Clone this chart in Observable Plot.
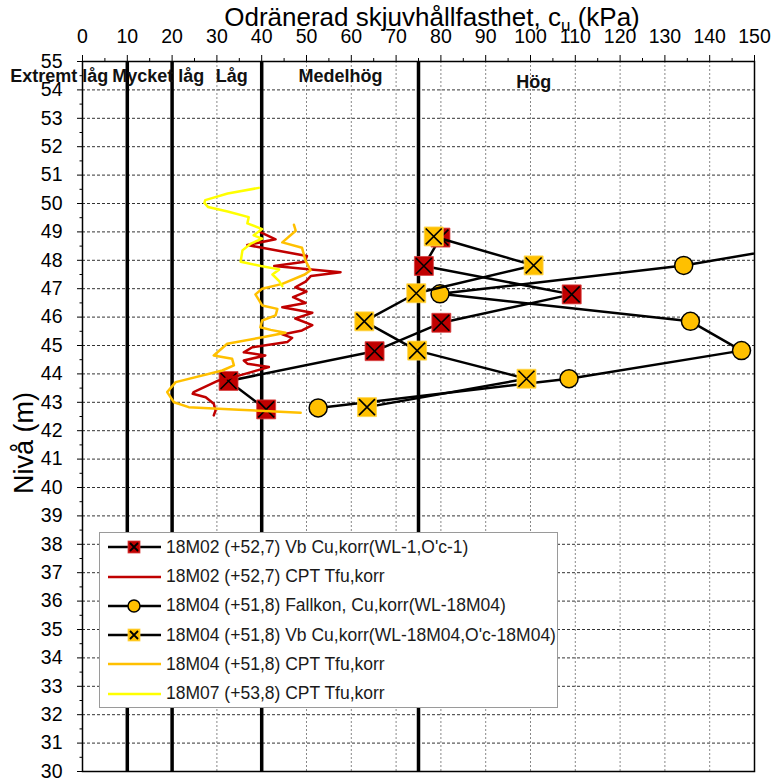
<!DOCTYPE html>
<html>
<head>
<meta charset="utf-8">
<script src="https://cdn.jsdelivr.net/npm/d3@7"></script>
<script src="https://cdn.jsdelivr.net/npm/@observablehq/plot@0.6"></script>
<style>
  body { margin: 0; background: white; }
  #wrap { position: relative; width: 771px; height: 780px; font-family: "Liberation Sans", Arial, sans-serif; }
  #legend { position: absolute; left: 99px; top: 532px; width: 459px; height: 176px; border: 1px solid #9a9a9a; background: white; box-sizing: border-box; }
  .row { position: absolute; left: 0; height: 22px; display: flex; align-items: center; }
  .row svg { margin-left: 7px; }
  .row span { position: absolute; left: 66px; font-size: 17.5px; color: #1a1a1a; white-space: nowrap; }
</style>
</head>
<body>
<div id="wrap"></div>
<script>
// ---- Data ----
const xTicks = [0, 10, 20, 30, 40, 50, 60, 70, 80, 90, 100, 110, 120, 130, 140, 150];
const yTicks = [30, 31, 32, 33, 34, 35, 36, 37, 38, 39, 40, 41, 42, 43, 44, 45, 46, 47, 48, 49, 50, 51, 52, 53, 54, 55];

const classBounds = [10, 20, 40, 75];
const classLabels = ["Extremt låg", "Mycket låg", "Låg", "Medelhög", "Hög"];
const classCu = [-5.2, 16.9, 33.3, 57.6, 100.7];
const classNiva = [54.48, 54.48, 54.48, 54.48, 54.28];

// 18M02 Vb
const vb02Cu = [79.9, 76.2, 109.2, 80.1, 65.2, 32.6, 41.0];
const vb02Niva = [48.8, 47.8, 46.8, 45.8, 44.8, 43.75, 42.75];

// 18M02 CPT
const cpt02Cu = [39.8, 43.1, 36.8, 39.8, 50.1, 49.6, 42.8, 57.6, 51.0, 49.8, 47.5, 50.0, 47.0, 49.8, 44.6, 51.3, 47.5, 51.3, 49.0, 44.6, 46.8, 45.7, 37.9, 36.0, 40.8, 36.0, 36.8, 41.6, 34.9, 30.4, 24.8, 24.6, 27.5, 29.3, 29.7, 29.3];
const cpt02Niva = [48.98, 48.74, 48.54, 48.45, 48.15, 47.95, 47.8, 47.58, 47.45, 47.25, 47.05, 46.9, 46.7, 46.5, 46.35, 46.15, 45.95, 45.72, 45.53, 45.39, 45.27, 45.12, 44.94, 44.76, 44.65, 44.47, 44.36, 44.24, 43.94, 43.77, 43.36, 43.3, 43.18, 42.95, 42.71, 42.54];

// 18M04 Fallkon
const fall04Cu = [171, 134.2, 79.8, 135.7, 147.1, 108.6, 52.6];
const fall04Niva = [48.8, 47.82, 46.82, 45.85, 44.82, 43.83, 42.8];

// 18M04 Vb
const vb04Cu = [78.4, 100.7, 74.5, 62.9, 74.7, 99.1, 63.5];
const vb04Niva = [48.84, 47.82, 46.84, 45.85, 44.82, 43.83, 42.83];

// 18M04 CPT
const cpt04Cu = [47.2, 47.6, 44.6, 49.0, 49.8, 50.9, 49.6, 44.6, 40.1, 38.6, 40.1, 43.5, 43.1, 40.1, 39.7, 42.0, 45.3, 40.5, 32.3, 29.3, 33.4, 33.8, 31.2, 20.8, 18.9, 20.4, 23.7, 34.9, 48.7];
const cpt04Niva = [49.25, 49.04, 48.63, 48.44, 47.98, 47.65, 47.5, 47.17, 47.0, 46.8, 46.41, 46.29, 46.06, 45.88, 45.64, 45.55, 45.45, 45.3, 45.06, 44.65, 44.53, 44.3, 44.12, 43.71, 43.36, 43.0, 42.83, 42.74, 42.63];

// 18M07 CPT
const cpt07Cu = [39.35, 32.4, 27.4, 27.2, 28.0, 32.4, 37.1, 36.8, 40.1, 38.2, 40.1, 37.6, 35.7, 35.3, 39.8, 43.9, 42.4, 43.9, 44.6];
const cpt07Niva = [50.55, 50.35, 50.12, 50.02, 49.88, 49.72, 49.52, 49.3, 49.1, 48.88, 48.76, 48.59, 48.35, 47.95, 47.8, 47.68, 47.5, 47.27, 47.09];

const legendLabels = [
  "18M02 (+52,7) Vb Cu,korr(WL-1,O'c-1)",
  "18M02 (+52,7) CPT Tfu,korr",
  "18M04 (+51,8) Fallkon, Cu,korr(WL-18M04)",
  "18M04 (+51,8) Vb Cu,korr(WL-18M04,O'c-18M04)",
  "18M04 (+51,8) CPT Tfu,korr",
  "18M07 (+53,8) CPT Tfu,korr"
];

const RED = "#c00000", GOLD = "#ffc000", YEL = "#ffff00";

const tbl = (cu, niva) => cu.map((c, i) => ({cu: c, niva: niva[i]}));
const vb02 = tbl(vb02Cu, vb02Niva);
const cpt02 = tbl(cpt02Cu, cpt02Niva);
const fall04 = tbl(fall04Cu, fall04Niva);
const vb04 = tbl(vb04Cu, vb04Niva);
const cpt04 = tbl(cpt04Cu, cpt04Niva);
const cpt07 = tbl(cpt07Cu, cpt07Niva);
const classes = classLabels.map((t, i) => ({t, cu: classCu[i], niva: classNiva[i]}));

const gridY = yTicks.slice(1, -1);
const gridX = xTicks.slice(1, -1);
const minorX = d3.range(5, 150, 10);
const minorY = d3.range(30.5, 55, 1);

const chart = Plot.plot({
  width: 771,
  height: 780,
  marginTop: 61,
  marginBottom: 9,
  marginLeft: 82,
  marginRight: 17,
  style: {fontFamily: "'Liberation Sans', Arial, sans-serif", background: "white", color: "black"},
  x: {domain: [0, 150]},
  y: {domain: [30, 55]},
  marks: [
    Plot.ruleY(gridY, {stroke: "#333", strokeWidth: 1, strokeDasharray: "3,2"}),
    Plot.ruleX(gridX, {stroke: "#888", strokeWidth: 1, strokeDasharray: "2,2"}),
    Plot.ruleX(classBounds, {stroke: "black", strokeWidth: 3.5}),
    Plot.text(classes, {x: "cu", y: "niva", text: "t", fontSize: 18, fontWeight: "bold", fill: "#111"}),
    // 18M02 Vb
    Plot.line(vb02, {x: "cu", y: "niva", stroke: "black", strokeWidth: 2.5, clip: true}),
    Plot.dot(vb02, {x: "cu", y: "niva", symbol: "square", r: 10.7, fill: RED, stroke: "#d84040", strokeWidth: 0.8}),
    Plot.dot(vb02, {x: "cu", y: "niva", symbol: "times", r: 7.3, stroke: "black", strokeWidth: 1.6}),
    // 18M02 CPT
    Plot.line(cpt02, {x: "cu", y: "niva", stroke: RED, strokeWidth: 2.5}),
    // 18M04 Fallkon
    Plot.line(fall04, {x: "cu", y: "niva", stroke: "black", strokeWidth: 2.5, clip: true}),
    Plot.dot(fall04, {x: "cu", y: "niva", symbol: "circle", r: 9, fill: GOLD, stroke: "black", strokeWidth: 1.5, clip: true}),
    // 18M04 Vb
    Plot.line(vb04, {x: "cu", y: "niva", stroke: "black", strokeWidth: 2.5, clip: true}),
    Plot.dot(vb04, {x: "cu", y: "niva", symbol: "square", r: 10.7, fill: GOLD, stroke: "#ffd54a", strokeWidth: 0.8}),
    Plot.dot(vb04, {x: "cu", y: "niva", symbol: "times", r: 7.3, stroke: "black", strokeWidth: 1.6}),
    // 18M04 CPT
    Plot.line(cpt04, {x: "cu", y: "niva", stroke: GOLD, strokeWidth: 2.5}),
    // 18M07 CPT
    Plot.line(cpt07, {x: "cu", y: "niva", stroke: YEL, strokeWidth: 2.5}),
    Plot.frame({stroke: "black", strokeWidth: 1.5}),
    Plot.axisX({anchor: "top", ticks: xTicks, tickSize: 7, tickPadding: 12, fontSize: 19.5, label: null}),
    Plot.axisX({anchor: "top", ticks: minorX, tickSize: 4, tickFormat: () => "", label: null}),
    Plot.axisY({anchor: "left", ticks: yTicks, tickSize: 5, tickPadding: 15, fontSize: 19.5, label: null}),
    Plot.axisY({anchor: "left", ticks: minorY, tickSize: 2.5, tickFormat: () => "", label: null})
  ]
});

const wrap = document.getElementById("wrap");
wrap.appendChild(chart);

// Titles
const svg = d3.select(chart);
const title = svg.append("text")
  .attr("x", 432).attr("y", 26)
  .attr("text-anchor", "middle")
  .attr("font-size", 26)
  .attr("fill", "black");
title.append("tspan").text("Odränerad skjuvhållfasthet, c");
title.append("tspan").attr("font-size", 17).attr("dy", 5).text("u");
title.append("tspan").attr("dy", -5).text(" (kPa)");

svg.append("text")
  .attr("transform", "translate(33,443) rotate(-90)")
  .attr("text-anchor", "middle")
  .attr("font-size", 27)
  .attr("fill", "black")
  .text("Nivå (m)");

// Legend
const legend = document.createElement("div");
legend.id = "legend";
wrap.appendChild(legend);
const symbols = [
  {line: "black", marker: "sq", fill: RED},
  {line: RED},
  {line: "black", marker: "circle", fill: GOLD},
  {line: "black", marker: "sq", fill: GOLD},
  {line: GOLD},
  {line: YEL}
];
legendLabels.forEach((lab, i) => {
  const row = document.createElement("div");
  row.className = "row";
  row.style.top = (14.2 + i * 29.3 - 11) + "px";
  const s = symbols[i];
  let mk = "";
  if (s.marker === "sq") {
    mk = `<rect x="21" y="5" width="12" height="12" fill="${s.fill}" stroke="${s.fill === RED ? '#d84040' : '#ffd54a'}" stroke-width="0.8"/>
          <path d="M23,7L31,15M23,15L31,7" stroke="black" stroke-width="1.8"/>`;
  } else if (s.marker === "circle") {
    mk = `<circle cx="27" cy="11" r="6" fill="${s.fill}" stroke="black" stroke-width="1.5"/>`;
  }
  row.innerHTML = `<svg width="56" height="22"><line x1="1" x2="54" y1="11" y2="11" stroke="${s.line}" stroke-width="2.5"/>${mk}</svg><span>${lab}</span>`;
  legend.appendChild(row);
});
</script>
</body>
</html>
